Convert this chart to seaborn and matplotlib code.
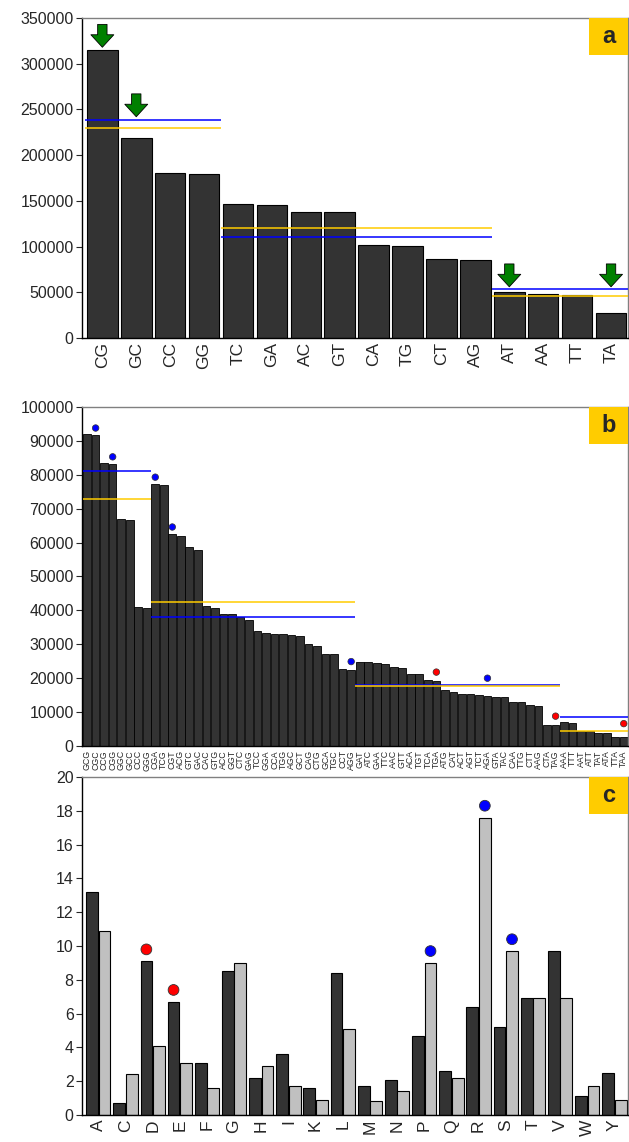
import numpy as np
import pandas as pd
import matplotlib
matplotlib.use("Agg")
import matplotlib.pyplot as plt
from matplotlib.patches import Rectangle
import seaborn as sns

# --- panel a: dinucleotides
dinucs = ["CG", "GC", "CC", "GG", "TC", "GA", "AC", "GT",
          "CA", "TG", "CT", "AG", "AT", "AA", "TT", "TA"]
dinuc_counts = [315000, 218500, 180500, 179500, 146500, 145500, 137800, 137500,
                101500, 100500, 86000, 85500, 50500, 48000, 47000, 27500]
a_group_sizes = [4, 8, 4]
a_blue = [238000, 111000, 54000]
a_yellow = [230000, 120000, 45500]
a_arrow_cats = ["CG", "GC", "AT", "TA"]
a_arrow_tips = [318000, 242000, 56000, 56000]

# --- panel b: codons
codons = ["GCG", "CGC", "CCG", "CGG", "GGC", "GCC", "CCC", "GGG",
          "CGA", "TCG", "CGT", "ACG", "GTC", "GAC", "CAC", "GTG",
          "ACC", "GGT", "CTC", "GAG", "TCC", "GGA", "CCA", "TGG",
          "AGC", "GCT", "CAG", "CTG", "GCA", "TGC", "CCT", "AGG",
          "GAT", "ATC", "GAA", "TTC", "AAC", "GTT", "ACA", "TGT",
          "TCA", "TGA", "ATG", "CAT", "ACT", "AGT", "TCT", "AGA",
          "GTA", "TAC", "CAA", "TTG", "CTT", "AAG", "CTA", "TAG",
          "AAA", "TTT", "AAT", "ATT", "TAT", "ATA", "TTA", "TAA"]
codon_counts = [92000, 91700, 83500, 83200, 67000, 66700, 41000, 40700,
                77300, 77000, 62500, 62000, 58700, 57800, 41300, 40700,
                39000, 38900, 38000, 37200, 34000, 33400, 33100, 33000,
                32700, 32400, 30200, 29500, 27200, 27000, 22800, 22500,
                24800, 24700, 24500, 24200, 23400, 23000, 21300, 21200,
                19500, 19300, 16600, 16000, 15400, 15200, 15000, 14700,
                14500, 14400, 13100, 13000, 12100, 11800, 6300, 6200,
                7100, 6800, 4500, 4400, 3900, 3800, 2700, 2600]
b_group_sizes = [8, 24, 24, 8]
b_blue = [81000, 38000, 18000, 8500]
b_yellow = [72800, 42500, 17600, 4300]
b_dot_codons = ["CGC", "CGG", "CGA", "CGT", "AGG", "AGA", "TGA", "TAG", "TAA"]
b_dot_values = [93800, 85300, 79300, 64600, 24900, 20000, 21800, 8800, 6600]
b_dot_colors = ["blue"] * 6 + ["red"] * 3

# --- panel c: amino acids
amino = ["A", "C", "D", "E", "F", "G", "H", "I", "K", "L",
         "M", "N", "P", "Q", "R", "S", "T", "V", "W", "Y"]
pct_dark = [13.2, 0.7, 9.1, 6.7, 3.1, 8.5, 2.2, 3.6, 1.6, 8.4,
            1.7, 2.1, 4.7, 2.6, 6.4, 5.2, 6.9, 9.7, 1.1, 2.5]
pct_light = [10.9, 2.4, 4.1, 3.1, 1.6, 9.0, 2.9, 1.7, 0.9, 5.1,
             0.8, 1.4, 9.0, 2.2, 17.6, 9.7, 6.9, 6.9, 1.7, 0.9]
c_dot_aa = ["D", "E", "P", "R", "S"]
c_dot_series = [0, 0, 1, 1, 1]
c_dot_values = [9.8, 7.4, 9.7, 18.3, 10.4]
c_dot_colors = ["red", "red", "blue", "blue", "blue"]

sns.set_style("white")
plt.rcParams["font.family"] = ["Liberation Sans", "DejaVu Sans"]

DARK = "#333333"
LIGHT = "#C0C0C0"
BLUE = "#0000FF"
YELLOW = "#FFCC00"

W, H = 629, 1142
fig = plt.figure(figsize=(W / 100, H / 100), dpi=100)

def box(top, bottom):
    return [82 / W, 1 - bottom / H, 546 / W, (bottom - top) / H]

ax_a = fig.add_axes(box(18, 338))
ax_b = fig.add_axes(box(407, 746))
ax_c = fig.add_axes(box(777, 1115))


def style(ax, label, fs_x, rot=90):
    for s in ["top", "right"]:
        ax.spines[s].set_color("#808080")
    for s in ["left", "bottom"]:
        ax.spines[s].set_color("black")
    for s in ax.spines.values():
        s.set_linewidth(1.0)
    ax.tick_params(axis="y", direction="out", length=4, labelsize=11.5, left=True, pad=2)
    ax.tick_params(axis="x", length=0, labelsize=fs_x, labelrotation=rot, pad=3)
    ax.set_xlabel("")
    ax.set_ylabel("")
    # yellow label box, ~39 x 37 px in the top right corner
    bb = ax.get_position()
    bw = 39 / (bb.width * W)
    bh = 37 / (bb.height * H)
    ax.add_patch(Rectangle((1 - bw, 1 - bh), bw, bh, transform=ax.transAxes,
                           facecolor=YELLOW, edgecolor="none", zorder=7, clip_on=False))
    ax.text(1 - bw / 2, 1 - bh / 2, label, transform=ax.transAxes, ha="center",
            va="center", fontsize=17, fontweight="bold", zorder=8)


def group_lines(ax, sizes, blue, yellow):
    start = 0
    for n, b, y in zip(sizes, blue, yellow):
        ax.hlines(b, start - 0.5, start + n - 0.5, color=BLUE, lw=1.1, zorder=5)
        ax.hlines(y, start - 0.5, start + n - 0.5, color=YELLOW, lw=1.1, zorder=5)
        start += n


# panel a
sns.barplot(x=dinucs, y=dinuc_counts, color=DARK, edgecolor="black",
            linewidth=0.8, width=0.9, saturation=1, ax=ax_a)
ax_a.set_ylim(0, 350000)
ax_a.set_xlim(-0.6, len(dinucs) - 0.5)
ax_a.set_yticks(range(0, 350001, 50000))
group_lines(ax_a, a_group_sizes, a_blue, a_yellow)
for cat, tip in zip(a_arrow_cats, a_arrow_tips):
    i = dinucs.index(cat)
    ax_a.annotate("", xy=(i, tip), xytext=(i, tip + 25000),
                  arrowprops=dict(arrowstyle="simple,head_width=1.1,head_length=0.6,tail_width=0.45",
                                  mutation_scale=15, shrinkA=0, shrinkB=0,
                                  fc="#008000", ec="black", lw=0.6))
style(ax_a, "a", 12.5)

# panel b
sns.barplot(x=codons, y=codon_counts, color=DARK, edgecolor="black",
            linewidth=0.6, width=0.9, saturation=1, ax=ax_b)
ax_b.set_ylim(0, 100000)
ax_b.set_xlim(-0.6, len(codons) - 0.5)
ax_b.set_yticks(range(0, 100001, 10000))
group_lines(ax_b, b_group_sizes, b_blue, b_yellow)
bx = [codons.index(c) for c in b_dot_codons]
ax_b.scatter(bx, b_dot_values, c=b_dot_colors, s=22, edgecolors="#333333",
             linewidths=0.5, zorder=6)
style(ax_b, "b", 6.3)

# panel c
dfc = pd.DataFrame({"aa": amino * 2,
                    "pct": pct_dark + pct_light,
                    "series": ["dark"] * len(amino) + ["light"] * len(amino)})
sns.barplot(data=dfc, x="aa", y="pct", hue="series", palette=[DARK, LIGHT],
            edgecolor="black", linewidth=0.8, width=0.92, gap=0.06,
            saturation=1, legend=False, ax=ax_c)
ax_c.set_ylim(0, 20)
ax_c.set_xlim(-0.6, len(amino) - 0.5)
ax_c.set_yticks(range(0, 21, 2))
cx = [amino.index(a) + (0.23 if s else -0.23) for a, s in zip(c_dot_aa, c_dot_series)]
ax_c.scatter(cx, c_dot_values, c=c_dot_colors, s=60, edgecolors="#333333",
             linewidths=0.6, zorder=6)
style(ax_c, "c", 12.5)

fig.savefig("out.png", dpi=100)
